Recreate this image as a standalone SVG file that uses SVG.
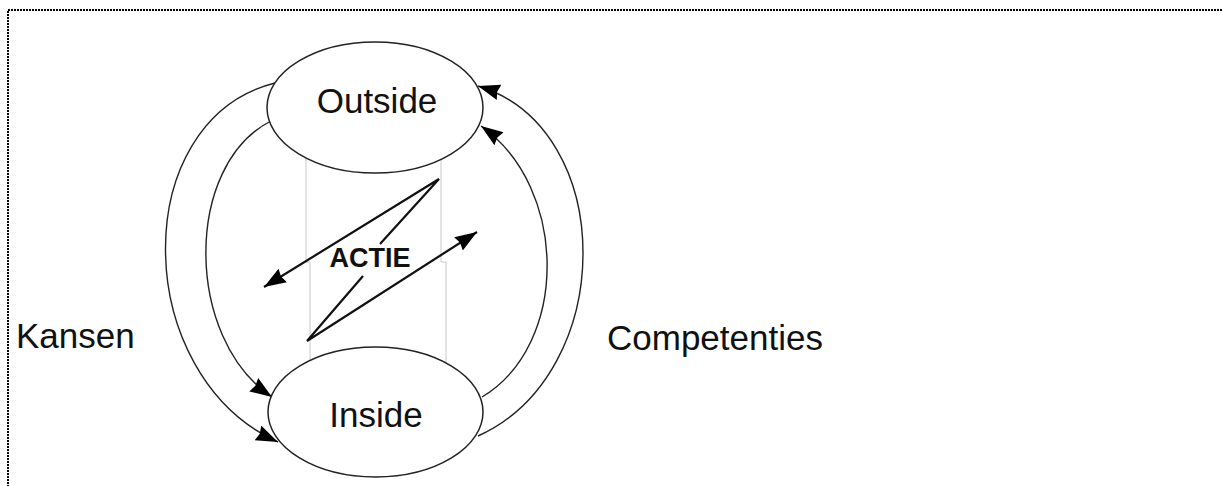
<svg xmlns="http://www.w3.org/2000/svg" width="1223" height="486" viewBox="0 0 1223 486">
  <style>
    .lbl { font-family: "Liberation Sans", Arial, sans-serif; font-size: 35px; fill: #111; }
    .node { fill: #fff; stroke: #222; stroke-width: 1.5; }
    .arc { fill: none; stroke: #222; stroke-width: 1.4; marker-end: url(#head); }
    .bolt { fill: none; stroke: #111; stroke-width: 2.2; stroke-linejoin: miter; marker-end: url(#head); }
    .guide { fill: none; stroke: #c8c8c8; stroke-width: 1; }
  </style>
  <defs>
    <marker id="head" markerUnits="userSpaceOnUse" markerWidth="24" markerHeight="18" refX="22" refY="8" orient="auto">
      <path d="M0,0 L22,8 L0,16 L2,8 z" fill="#000"/>
    </marker>
  </defs>

  <rect width="1223" height="486" fill="#fff"/>
  <!-- dotted frame -->
  <rect x="8" y="10" width="1400" height="700" fill="none" stroke="#000" stroke-width="2" stroke-dasharray="2 1"/>

  <!-- light guide lines between the nodes -->
  <g id="guides">
    <polyline class="guide" points="306,150 306,262 310,262 310,365"/>
    <polyline class="guide" points="441,150 441,262 446,262 446,365"/>
  </g>

  <g id="connectors">
    <!-- Kansen: Outside -> Inside -->
    <path class="arc" d="M275,83 C127,120 130,375 278,442"/>
    <path class="arc" d="M271,121 C184,165 184,338 272,397"/>
    <!-- Competenties: Inside -> Outside -->
    <path class="arc" d="M478,436 C618,373 618,128 478,86"/>
    <path class="arc" d="M482,397 C569,345 569,188 481,126"/>
    <!-- ACTIE bolts -->
    <path class="bolt" d="M380,244 L439,179 L264,287"/>
    <path class="bolt" d="M363,276 L307,341 L477,232"/>
  </g>

  <g id="outside">
    <ellipse class="node" cx="375" cy="107.5" rx="108" ry="65.5"/>
    <text class="lbl" x="377" y="113" text-anchor="middle">Outside</text>
  </g>
  <g id="inside">
    <ellipse class="node" cx="375.5" cy="412" rx="107.5" ry="65"/>
    <text class="lbl" x="376" y="427" text-anchor="middle">Inside</text>
  </g>
  <g id="actie">
    <text x="370" y="267" text-anchor="middle" font-family="Liberation Sans, Arial, sans-serif" font-size="27" font-weight="bold" fill="#111">ACTIE</text>
  </g>
  <g id="kansen">
    <text class="lbl" x="16" y="348">Kansen</text>
  </g>
  <g id="competenties">
    <text class="lbl" x="607" y="350">Competenties</text>
  </g>
</svg>
